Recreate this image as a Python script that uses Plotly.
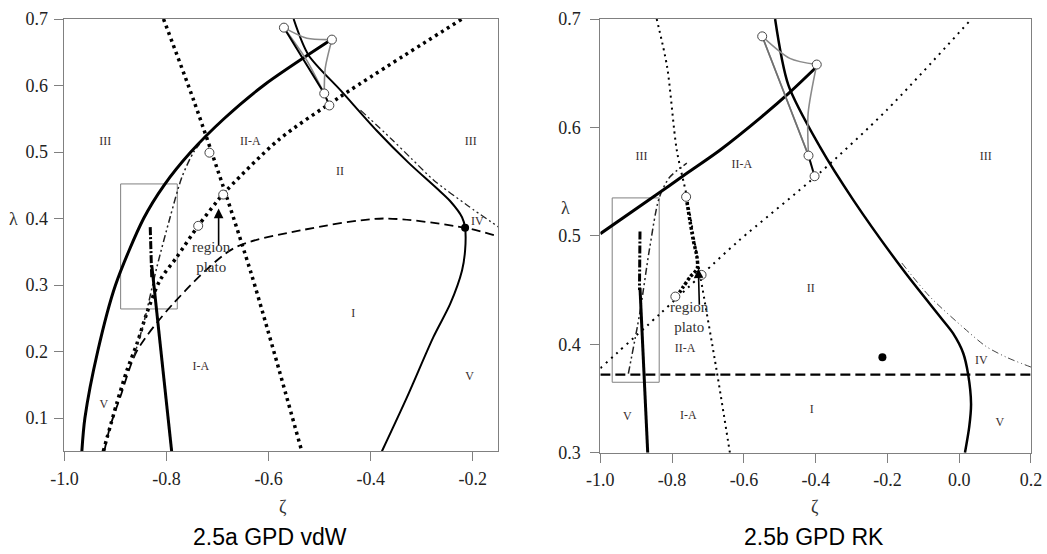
import plotly.graph_objects as go

# ---------------- data: left panel (vdW) ----------------
L_thick_x = [-0.966, -0.960, -0.935, -0.900, -0.845, -0.805, -0.7525, -0.6875, -0.610, -0.483]
L_thick_y = [0.05, 0.10, 0.20, 0.30, 0.40, 0.45, 0.50, 0.55, 0.60, 0.666]
L_solid_x = [-0.551, -0.522, -0.458, -0.388, -0.326, -0.270, -0.244, -0.221, -0.215, -0.215, -0.221, -0.244, -0.277, -0.329, -0.378]
L_solid_y = [0.70, 0.646, 0.592, 0.532, 0.484, 0.445, 0.426, 0.402, 0.386, 0.352, 0.322, 0.272, 0.222, 0.131, 0.05]
L_dd1_x = [-0.420, -0.360, -0.320, -0.277, -0.211, -0.149]
L_dd1_y = [0.563, 0.520, 0.490, 0.458, 0.420, 0.387]
L_dd2_x = [-0.865, -0.845, -0.819, -0.793, -0.770, -0.747, -0.735]
L_dd2_y = [0.190, 0.242, 0.327, 0.402, 0.462, 0.500, 0.512]
L_dash_x = [-0.922, -0.911, -0.891, -0.858, -0.787, -0.669, -0.538, -0.375, -0.215, -0.149]
L_dash_y = [0.05, 0.086, 0.131, 0.201, 0.272, 0.355, 0.382, 0.400, 0.386, 0.373]
L_dot1_x = [-0.806, -0.747, -0.682, -0.634, -0.611, -0.579, -0.535]
L_dot1_y = [0.70, 0.578, 0.432, 0.317, 0.257, 0.171, 0.05]
L_dot2_x = [-0.924, -0.898, -0.878, -0.858, -0.839, -0.813, -0.780, -0.738, -0.702, -0.689, -0.581, -0.460, -0.221]
L_dot2_y = [0.05, 0.121, 0.171, 0.212, 0.257, 0.307, 0.342, 0.389, 0.425, 0.437, 0.518, 0.583, 0.70]
L_spike_dd_x = [-0.832, -0.829]
L_spike_dd_y = [0.387, 0.310]
L_spike_x = [-0.829, -0.790]
L_spike_y = [0.330, 0.05]
L_box_x = [-0.890, -0.779, -0.779, -0.890, -0.890]
L_box_y = [0.264, 0.264, 0.452, 0.452, 0.264]
# swallowtail vertices A, B, C, D
L_sw_x = [-0.570, -0.476, -0.491, -0.481]
L_sw_y = [0.687, 0.669, 0.588, 0.570]
L_gAB_x = [-0.570, -0.525, -0.476]
L_gAB_y = [0.687, 0.671, 0.669]
L_gBC_x = [-0.476, -0.489, -0.491]
L_gBC_y = [0.669, 0.626, 0.588]
L_gAC_x = [-0.570, -0.527, -0.491]
L_gAC_y = [0.687, 0.640, 0.588]
L_circ_x = [-0.716, -0.689, -0.738, -0.570, -0.476, -0.491, -0.481]
L_circ_y = [0.499, 0.436, 0.389, 0.687, 0.669, 0.588, 0.570]
L_fill_x = [-0.215]
L_fill_y = [0.386]
L_lab = ["III", "II-A", "II", "III", "IV", "I", "I-A", "V", "V"]
L_lab_x = [-0.920, -0.636, -0.460, -0.204, -0.191, -0.434, -0.733, -0.206, -0.923]
L_lab_y = [0.515, 0.515, 0.470, 0.515, 0.395, 0.257, 0.176, 0.162, 0.120]
L_xticks = [-1.0, -0.8, -0.6, -0.4, -0.2]
L_xtext = ["-1.0", "-0.8", "-0.6", "-0.4", "-0.2"]
L_yticks = [0.1, 0.2, 0.3, 0.4, 0.5, 0.6, 0.7]
L_ytext = ["0.1", "0.2", "0.3", "0.4", "0.5", "0.6", "0.7"]

# ---------------- data: right panel (RK) ----------------
R_thick_x = [-1.0, -0.852, -0.760, -0.667, -0.550, -0.470, -0.400]
R_thick_y = [0.502, 0.536, 0.5575, 0.579, 0.610, 0.633, 0.655]
R_solid_x = [-0.513, -0.476, -0.388, -0.295, -0.156, -0.045, -0.017, 0.011, 0.025, 0.033, 0.028, 0.016]
R_solid_y = [0.70, 0.639, 0.582, 0.533, 0.4685, 0.422, 0.410, 0.392, 0.372, 0.345, 0.324, 0.30]
R_dd1_x = [-0.160, -0.082, 0.020, 0.075, 0.132, 0.200]
R_dd1_y = [0.475, 0.444, 0.413, 0.398, 0.388, 0.379]
R_dd2_x = [-0.922, -0.890, -0.862, -0.836, -0.807, -0.759]
R_dd2_y = [0.373, 0.429, 0.490, 0.535, 0.554, 0.567]
R_dash_x = [-1.0, 0.2]
R_dash_y = [0.372, 0.372]
R_dot1_x = [-0.843, -0.814, -0.787, -0.759, -0.722, -0.676, -0.639]
R_dot1_y = [0.70, 0.656, 0.579, 0.536, 0.464, 0.376, 0.30]
R_dot2_x = [-1.0, -0.834, -0.718, -0.616, -0.389, -0.202, 0.034]
R_dot2_y = [0.378, 0.428, 0.464, 0.495, 0.558, 0.616, 0.70]
R_fatdot_x = [-0.761, -0.741, -0.731, -0.730, -0.750, -0.769, -0.787]
R_fatdot_y = [0.536, 0.496, 0.481, 0.470, 0.462, 0.453, 0.444]
R_spike_dd_x = [-0.8895, -0.891]
R_spike_dd_y = [0.504, 0.450]
R_spike_x = [-0.8895, -0.868]
R_spike_y = [0.452, 0.30]
R_box_x = [-0.967, -0.836, -0.836, -0.967, -0.967]
R_box_y = [0.365, 0.365, 0.535, 0.535, 0.365]
R_sw_x = [-0.549, -0.397, -0.420, -0.403]
R_sw_y = [0.684, 0.658, 0.574, 0.555]
R_gAB_x = [-0.549, -0.472, -0.397]
R_gAB_y = [0.684, 0.6637, 0.658]
R_gBC_x = [-0.397, -0.421, -0.420]
R_gBC_y = [0.658, 0.613, 0.574]
R_gAC_x = [-0.549, -0.480, -0.420]
R_gAC_y = [0.684, 0.625, 0.574]
R_circ_x = [-0.549, -0.397, -0.420, -0.403, -0.761, -0.718, -0.791]
R_circ_y = [0.684, 0.658, 0.574, 0.555, 0.536, 0.464, 0.444]
R_fill_x = [-0.214]
R_fill_y = [0.388]
R_lab = ["III", "II-A", "III", "II", "II-A", "IV", "V", "I-A", "I", "V"]
R_lab_x = [-0.885, -0.606, 0.074, -0.414, -0.764, 0.062, -0.925, -0.755, -0.411, 0.113]
R_lab_y = [0.573, 0.565, 0.573, 0.451, 0.396, 0.385, 0.333, 0.334, 0.339, 0.327]
R_xticks = [-1.0, -0.8, -0.6, -0.4, -0.2, 0.0, 0.2]
R_xtext = ["-1.0", "-0.8", "-0.6", "-0.4", "-0.2", "0.0", "0.2"]
R_yticks = [0.3, 0.4, 0.5, 0.6, 0.7]
R_ytext = ["0.3", "0.4", "0.5", "0.6", "0.7"]

# ---------------- figure ----------------
fig = go.Figure()
SERIF = "Liberation Serif, Times New Roman, serif"
DD = "7px,3px,2px,3px,2px,3px"


def line(x, y, ax, width=2, dash="solid", color="black", shape="spline"):
    fig.add_trace(go.Scatter(x=x, y=y, mode="lines", xaxis=ax[0], yaxis=ax[1],
                             line=dict(width=width, dash=dash, color=color, shape=shape, smoothing=0.8),
                             hoverinfo="skip", showlegend=False))


def panel(ax, d):
    line(d["box"][0], d["box"][1], ax, 1, "solid", "#808080", "linear")
    for x, y, w, dash, col, sh in d["lines"]:
        line(x, y, ax, w, dash, col, sh)
    fig.add_trace(go.Scatter(x=d["circ"][0], y=d["circ"][1], mode="markers", xaxis=ax[0], yaxis=ax[1],
                             marker=dict(size=9, color="white", line=dict(color="#444", width=1)),
                             hoverinfo="skip", showlegend=False))
    fig.add_trace(go.Scatter(x=d["fill"][0], y=d["fill"][1], mode="markers", xaxis=ax[0], yaxis=ax[1],
                             marker=dict(size=8, color="black"), hoverinfo="skip", showlegend=False))
    fig.add_trace(go.Scatter(x=d["lab"][1], y=d["lab"][2], text=d["lab"][0], mode="text",
                             xaxis=ax[0], yaxis=ax[1], textfont=dict(family=SERIF, size=12, color="#3a2e2e"),
                             hoverinfo="skip", showlegend=False))


panel(("x", "y"), dict(
    box=(L_box_x, L_box_y),
    lines=[
        (L_dash_x, L_dash_y, 1.8, "9px,5px", "black", "spline"),
        (L_dot1_x, L_dot1_y, 3.5, "3px,4px", "black", "spline"),
        (L_dot2_x, L_dot2_y, 3.5, "3px,4px", "black", "spline"),
        (L_dd1_x, L_dd1_y, 1.3, DD, "#222", "spline"),
        (L_dd2_x, L_dd2_y, 1.5, DD, "#222", "spline"),
        (L_thick_x, L_thick_y, 3, "solid", "black", "spline"),
        (L_solid_x, L_solid_y, 2, "solid", "black", "spline"),
        (L_spike_dd_x, L_spike_dd_y, 3, "8px,2px,2px,2px", "black", "linear"),
        (L_spike_x, L_spike_y, 3, "solid", "black", "linear"),
        (L_gAB_x, L_gAB_y, 1.6, "solid", "#8a8a8a", "spline"),
        (L_gBC_x, L_gBC_y, 1.6, "solid", "#8a8a8a", "spline"),
        (L_gAC_x, L_gAC_y, 1.6, "solid", "#8a8a8a", "spline"),
        (L_sw_x[:1] + L_sw_x[2:], L_sw_y[:1] + L_sw_y[2:], 2, "solid", "black", "linear"),
    ],
    circ=(L_circ_x, L_circ_y), fill=(L_fill_x, L_fill_y),
    lab=(L_lab, L_lab_x, L_lab_y)))

panel(("x2", "y2"), dict(
    box=(R_box_x, R_box_y),
    lines=[
        (R_dash_x, R_dash_y, 2.3, "10px,5px", "black", "linear"),
        (R_dot1_x, R_dot1_y, 2, "2px,4px", "black", "spline"),
        (R_dot2_x, R_dot2_y, 2, "2px,5px", "black", "spline"),
        (R_fatdot_x, R_fatdot_y, 3.5, "3px,2px", "black", "spline"),
        (R_dd1_x, R_dd1_y, 1, "7px,3px,1px,3px,1px,3px", "#444", "spline"),
        (R_dd2_x, R_dd2_y, 1.5, DD, "#222", "spline"),
        (R_thick_x, R_thick_y, 3, "solid", "black", "spline"),
        (R_solid_x, R_solid_y, 2.5, "solid", "black", "spline"),
        (R_spike_dd_x, R_spike_dd_y, 3, "8px,2px,2px,2px", "black", "linear"),
        (R_spike_x, R_spike_y, 3, "solid", "black", "linear"),
        (R_gAB_x, R_gAB_y, 1.6, "solid", "#8a8a8a", "spline"),
        (R_gBC_x, R_gBC_y, 1.6, "solid", "#8a8a8a", "spline"),
        (R_gAC_x, R_gAC_y, 1.6, "solid", "#8a8a8a", "spline"),
        (R_sw_x[:1] + R_sw_x[2:3], R_sw_y[:1] + R_sw_y[2:3], 1.6, "solid", "#707070", "linear"),
        (R_sw_x[2:], R_sw_y[2:], 2, "solid", "black", "linear"),
    ],
    circ=(R_circ_x, R_circ_y), fill=(R_fill_x, R_fill_y),
    lab=(R_lab, R_lab_x, R_lab_y)))

axis_common = dict(showline=True, mirror=True, linecolor="#808080", linewidth=1,
                   ticks="outside", ticklen=9, tickcolor="#808080", tickwidth=1,
                   showgrid=False, zeroline=False, tickmode="array", automargin=False,
                   tickfont=dict(family="Liberation Serif", size=18, color="#222"))

fig.update_layout(
    width=1047, height=554, autosize=False,
    margin=dict(l=0, r=0, t=0, b=0),
    paper_bgcolor="white", plot_bgcolor="white",
    xaxis=dict(domain=[0.0616, 0.4759], range=[-1.0, -0.15], tickvals=L_xticks, ticktext=L_xtext,
               anchor="y", ticklabelstandoff=2, **axis_common),
    yaxis=dict(domain=[0.1854, 0.9657], range=[0.05, 0.7], tickvals=L_yticks, ticktext=L_ytext,
               anchor="x", ticklabelstandoff=3, **axis_common),
    xaxis2=dict(domain=[0.5734, 0.9847], range=[-1.0, 0.2], tickvals=R_xticks, ticktext=R_xtext,
                anchor="y2", ticklabelstandoff=2, **axis_common),
    yaxis2=dict(domain=[0.1828, 0.9657], range=[0.3, 0.7], tickvals=R_yticks, ticktext=R_ytext,
                anchor="x2", ticklabelstandoff=6, **axis_common),
)

ann = []
# arrows + "region plato"
ann.append(dict(x=-0.698, y=0.415, ax=-0.698, ay=0.357, xref="x", yref="y", axref="x", ayref="y",
                text="", showarrow=True, arrowhead=2, arrowsize=1.2, arrowwidth=1.6, arrowcolor="black"))
ann.append(dict(x=-0.711, y=0.342, xref="x", yref="y", text="region<br>plato", showarrow=False,
                xanchor="center", yanchor="middle", font=dict(family=SERIF, size=15, color="#333")))
ann.append(dict(x=-0.727, y=0.470, ax=-0.724, ay=0.435, xref="x2", yref="y2", axref="x2", ayref="y2",
                text="", showarrow=True, arrowhead=2, arrowsize=1.2, arrowwidth=1.6, arrowcolor="black"))
ann.append(dict(x=-0.752, y=0.425, xref="x2", yref="y2", text="region<br>plato", showarrow=False,
                xanchor="center", yanchor="middle", font=dict(family=SERIF, size=15, color="#333")))
# axis titles
for xp, yp, t in [(283 / 1047, 1 - 507 / 554, "ζ"), (815 / 1047, 1 - 507 / 554, "ζ"),
                  (13 / 1047, 1 - 219 / 554, "λ"), (565 / 1047, 1 - 208 / 554, "λ")]:
    ann.append(dict(x=xp, y=yp, xref="paper", yref="paper", text=t, showarrow=False,
                    xanchor="center", yanchor="middle", font=dict(family=SERIF, size=18, color="#333")))
# panel captions
ann.append(dict(x=270 / 1047, y=1 - 537 / 554, xref="paper", yref="paper", text="2.5a GPD vdW",
                showarrow=False, xanchor="center", yanchor="middle", borderpad=0,
                font=dict(family="Liberation Sans, Arial, sans-serif", size=23, color="black")))
ann.append(dict(x=814 / 1047, y=1 - 537 / 554, xref="paper", yref="paper", text="2.5b GPD RK",
                showarrow=False, xanchor="center", yanchor="middle", borderpad=0,
                font=dict(family="Liberation Sans, Arial, sans-serif", size=23, color="black")))
fig.update_layout(annotations=ann)

fig.write_html("out.html")
